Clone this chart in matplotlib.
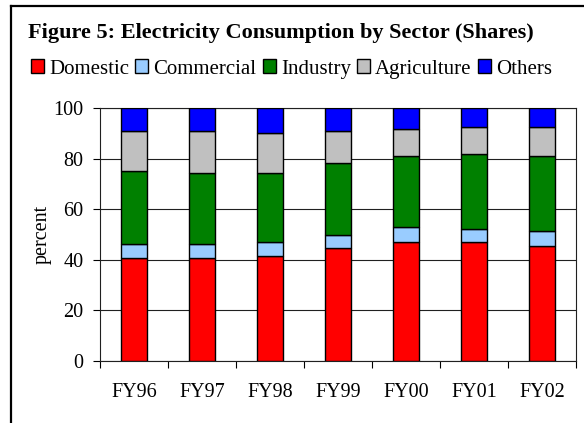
import numpy as np
import matplotlib.pyplot as plt
from matplotlib.patches import Patch
from matplotlib.lines import Line2D

years = ['FY96', 'FY97', 'FY98', 'FY99', 'FY00', 'FY01', 'FY02']
sectors = ['Domestic', 'Commercial', 'Industry', 'Agriculture', 'Others']
domestic = [40.8, 40.8, 41.6, 44.6, 46.9, 46.9, 45.5]
commercial = [5.4, 5.4, 5.4, 5.2, 6.0, 5.3, 5.9]
industry = [28.9, 28.1, 27.3, 28.7, 28.2, 29.7, 29.7]
agriculture = [15.9, 16.7, 15.9, 12.5, 10.7, 10.7, 11.5]
others = [9.0, 9.0, 9.8, 9.0, 8.2, 7.4, 7.4]
colors = ['#ff0000', '#99ccff', '#008000', '#c0c0c0', '#0000ff']

plt.rcParams['font.family'] = ['Liberation Serif', 'DejaVu Serif']

fig = plt.figure(figsize=(5.84, 4.23), dpi=100)
ax = fig.add_axes([100 / 584, 62.3 / 423, 476 / 584, 252.4 / 423])

# stacked bars
x = np.arange(len(years))
bottom = np.zeros(len(years))
for vals, col in zip([domestic, commercial, industry, agriculture, others], colors):
    ax.bar(x, vals, 0.39, bottom=bottom, color=col, edgecolor='black', linewidth=1.0, zorder=3)
    bottom += np.array(vals)

ax.set_xlim(-0.5, 6.5)
ax.set_ylim(0, 100)
ax.set_yticks([0, 20, 40, 60, 80, 100])
ax.set_xticks(np.arange(-0.5, 7, 1))
ax.set_xticklabels([])
ax.set_xticks(x, minor=True)
ax.set_xticklabels(years, minor=True)
ax.tick_params(axis='x', which='minor', length=0, pad=16, labelsize=14.5)
ax.tick_params(axis='x', which='major', length=5, direction='out', width=0.8)
ax.tick_params(axis='y', length=5, direction='out', width=0.8, labelsize=14.5, pad=7)
ax.yaxis.grid(True, color='#202020', linewidth=0.8, zorder=0)
for s in ax.spines.values():
    s.set_linewidth(0.8)
    s.set_color('#202020')
ax.set_ylabel('percent', fontsize=14.5, labelpad=1)

# title and legend
fig.text(28 / 584, 1 - 33 / 423, 'Figure 5: Electricity Consumption by Sector (Shares)',
         fontsize=16, fontweight='bold', va='center', ha='left')
handles = [Patch(facecolor=c, edgecolor='black', linewidth=1.0) for c in colors]
fig.legend(handles, sectors, loc='center left', bbox_to_anchor=(31 / 584, 1 - 69 / 423),
           ncol=5, frameon=False, fontsize=15, handlelength=0.62, handleheight=0.62,
           handletextpad=0.25, columnspacing=0.3, borderaxespad=0, borderpad=0)

# outer frame (left and top edges)
fig.add_artist(Line2D([11 / 584, 11 / 584], [0, 1 - 6 / 423], color='black', linewidth=1.6))
fig.add_artist(Line2D([11 / 584, 1], [1 - 6 / 423, 1 - 6 / 423], color='black', linewidth=1.6))

fig.savefig('out.png', dpi=100)
